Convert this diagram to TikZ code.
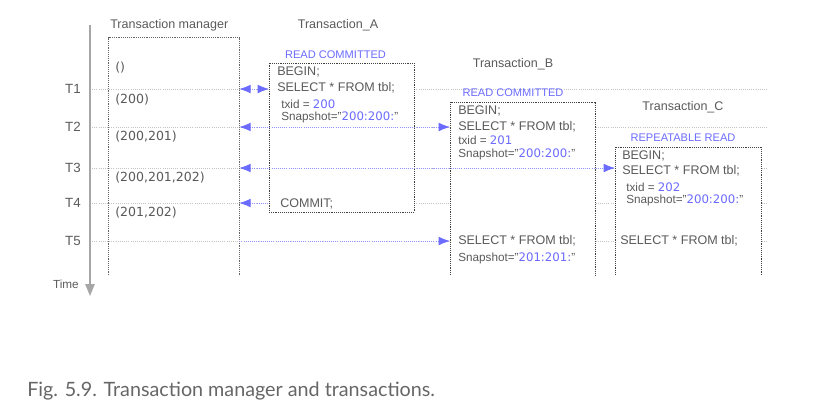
\documentclass[tikz,border=0pt]{standalone}
\usepackage{fontspec}
\setmainfont{Liberation Sans}
\newfontfamily\numfont{DejaVu Sans}
\newfontfamily\capfont{Lato}
\usepackage{tikz}
\usetikzlibrary{arrows.meta,positioning,calc}
\definecolor{txtgray}{HTML}{5A5A5A}
\definecolor{linegray}{HTML}{C4C4C4}
\definecolor{isoblue}{HTML}{6B6BFF}

\begin{document}
\begin{tikzpicture}[x=0.75pt,y=-0.75pt]
				      \tikzset{every node/.style={text=txtgray,inner sep=0pt,font=\fontsize{9.4}{11}\selectfont}}

				      \tikzset{small/.style = {font=\fontsize{8.8}{10}\selectfont}}

				      \tikzset{iso/.style = {text=isoblue,font=\fontsize{8.3}{10}\selectfont}}

				      \tikzset{txbox/.style = {draw=black!75,dash pattern=on 0.7pt off 0.7pt,fill=white,outer sep=0pt}}

				      \tikzset{openbox/.style = {draw=none,fill=white,outer sep=0pt}}

				      \tikzset{tline/.style = {linegray,dash pattern=on 0.7pt off 0.9pt,line width=0.5pt}}

				      \tikzset{bline/.style = {isoblue!75,dash pattern=on 0.7pt off 0.9pt,line width=0.6pt,> = {Latex[length=8.5pt,width=6.5pt,color=isoblue]}}}

				      \newcommand{\nums}[1]{\textcolor{isoblue}{\numfont #1}}

				      \useasboundingbox (0,0) rectangle (822,408);

				      % time axis
				      \coordinate (ttop) at (90,25);
				      \coordinate (tend) at (90,296);
				      \node[anchor=east,small] (time) at (79,284) {Time};
				      \foreach \n/\y in {1/89,2/127,3/168,4/203,5/241} {
					      \node[anchor=east,font=\fontsize{10}{12}\selectfont] (t\n) at (81,\y) {T\n};
					      \coordinate (l\n) at (90,\y);
					      \coordinate (r\n) at (768,\y);
					      \draw[tline] (l\n) -- (r\n);
				      }
				      \draw[black!35,line width=1.1pt,-{Triangle[length=9pt,width=7pt]}] (ttop) -- (tend);

				      % boxes
				      \node[minimum width=97.5pt,minimum height=177.75pt] (mgr) at (174,156.5) {};
				      \draw[black!60,dash pattern=on 0.7pt off 0.7pt] (mgr.south west) |- (mgr.north east) -- (mgr.south east);

				      \node[txbox,minimum width=108.75pt,minimum height=111.75pt] (A) at (341.5,137.5) {};

				      \node[openbox,minimum width=108.75pt,minimum height=129.75pt] (B) at (522.5,188.5) {};
				      \draw[black!75,dash pattern=on 0.7pt off 0.7pt] (B.south west) |- (B.north east) -- (B.south east);

				      \node[openbox,minimum width=109.5pt,minimum height=96pt] (C) at (688,211) {};
				      \draw[black!75,dash pattern=on 0.7pt off 0.7pt] (C.south west) |- (C.north east) -- (C.south east);

				      % titles
				      \node[anchor=west] (mgrt) at (110,25) {Transaction manager};
				      \node (At) at (338,25) {Transaction\_A};
				      \node (Bt) at (513,64) {Transaction\_B};
				      \node (Ct) at (683,107) {Transaction\_C};
				      \node[iso] (Ai) at (335.5,55) {READ COMMITTED};
				      \node[iso] (Bi) at (513,93) {READ COMMITTED};
				      \node[iso] (Ci) at (683,138) {REPEATABLE READ};

				      % transaction manager
				      \node[anchor=west] (m0) at (115,68) {\numfont ()};
				      \node[anchor=west] (m1) at (115,100) {\numfont (200)};
				      \node[anchor=west] (m2) at (115,137) {\numfont (200,201)};
				      \node[anchor=west] (m3) at (115,178) {\numfont (200,201,202)};
				      \node[anchor=west] (m4) at (115,213) {\numfont (201,202)};

				      % Transaction_A
				      \node[anchor=west] (a1) at (277,72) {BEGIN;};
				      \node[anchor=west] (a2) at (277,88) {SELECT * FROM tbl;};
				      \node[anchor=west,small] (a3) at (281,104) {txid = \nums{200}};
				      \node[anchor=west,small] (a4) at (281,117.5) {Snapshot="\nums{200:200:}"};
				      \node[anchor=west] (a5) at (280,204) {COMMIT;};

				      % Transaction_B
				      \node[anchor=west] (b1) at (458,111) {BEGIN;};
				      \node[anchor=west] (b2) at (458,127) {SELECT * FROM tbl;};
				      \node[anchor=west,small] (b3) at (458,140.5) {txid = \nums{201}};
				      \node[anchor=west,small] (b4) at (458,154) {Snapshot="\nums{200:200:}"};
				      \node[anchor=west] (b5) at (458,241) {SELECT * FROM tbl;};
				      \node[anchor=west,small] (b6) at (458,258) {Snapshot="\nums{201:201:}"};

				      % Transaction_C
				      \node[anchor=west] (c1) at (622,156) {BEGIN;};
				      \node[anchor=west] (c2) at (622,171) {SELECT * FROM tbl;};
				      \node[anchor=west,small] (c3) at (626,187) {txid = \nums{202}};
				      \node[anchor=west,small] (c4) at (626,200.5) {Snapshot="\nums{200:200:}"};
				      \node[anchor=west] (c5) at (620,241) {SELECT * FROM tbl;};

				      %edges
				      \draw[bline,<->] (l1 -| mgr.east) -- (l1 -| A.west);
				      \draw[bline,<->] (l2 -| mgr.east) -- (l2 -| B.west);
				      \draw[bline,<->] (l3 -| mgr.east) -- (l3 -| C.west);
				      \draw[bline,<-] (l4 -| mgr.east) -- (l4 -| A.west);
				      \draw[bline,->] (l5 -| mgr.east) -- (l5 -| B.west);

				      % caption
				      \node[anchor=base west,font=\capfont\fontsize{14.8}{17}\selectfont,text=black!60] (cap) at (27,396) {Fig. 5.9. Transaction manager and transactions.};
			      \end{tikzpicture}
\end{document}
